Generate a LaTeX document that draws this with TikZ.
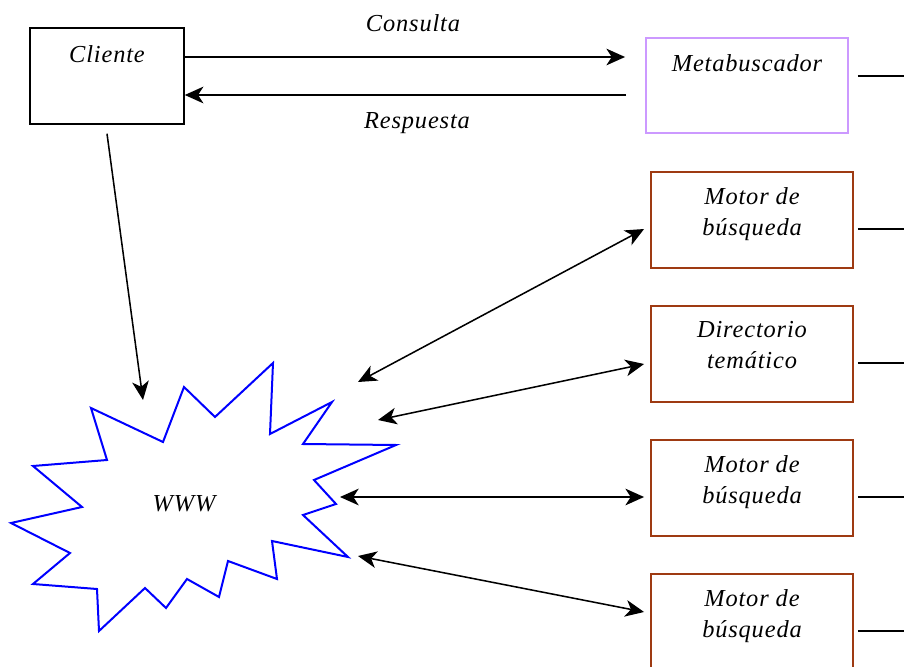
\documentclass[tikz,border=0pt]{standalone}
\usepackage{fontspec}
\setmainfont[LetterSpace=3.5]{Liberation Serif}
\usetikzlibrary{arrows.meta,calc}

\definecolor{lila}{RGB}{204,153,255}
\definecolor{teja}{RGB}{158,58,18}

\tikzset{
  every node/.style={font=\fontsize{18.3}{23.3}\selectfont\itshape},
  caja/.style={draw, line width=1.1pt, minimum width=115.5pt, minimum height=72pt, inner sep=0pt},
  cajameta/.style={draw=lila, line width=1.4pt, minimum width=151.5pt, minimum height=71.5pt, inner sep=0pt},
  cajamotor/.style={draw=teja, line width=1.4pt, minimum width=151.5pt, minimum height=72pt, inner sep=0pt},
  texto/.style={inner sep=0pt, align=center},
  flecha/.style={line width=1.15pt, -{Stealth[length=14pt, width=12.5pt, inset=4pt]}},
  dflecha/.style={line width=1.15pt, {Stealth[length=14pt, width=12.5pt, inset=4pt]}-{Stealth[length=14pt, width=12.5pt, inset=4pt]}},
  linea/.style={line width=1.15pt}
}

\begin{document}
\begin{tikzpicture}[x=0.75pt, y=-0.75pt]

\useasboundingbox (0,0) rectangle (904,667);
\clip (0,0) rectangle (904,667);

% cajas
\node [caja] (cli) at (107,76) {};
\node [cajameta] (meta) at (747,85.5) {};
\node [cajamotor] (mot1) at (752,220) {};
\node [cajamotor] (dir) at (752,354) {};
\node [cajamotor] (mot2) at (752,488) {};
\node [cajamotor] (mot3) at (752,622) {};

\node [texto, anchor=base] (tcli) at ($(cli.north)+(0,35)$) {Cliente};
\node [texto, anchor=base] (tmeta) at ($(meta.north)+(0,35)$) {Metabuscador};
\node [texto, anchor=north] (tmot1) at ($(mot1.north)+(0,15.8)$) {Motor de\\búsqueda};
\node [texto, anchor=north] (tdir) at ($(dir.north)+(0,15.8)$) {Directorio\\temático};
\node [texto, anchor=north] (tmot2) at ($(mot2.north)+(0,15.8)$) {Motor de\\búsqueda};
\node [texto, anchor=north] (tmot3) at ($(mot3.north)+(0,15.8)$) {Motor de\\búsqueda};

% la red
\draw [blue, line width=1.5pt, line join=miter] (91,408) -- (163,442) -- (184,387) -- (215,417) -- (273,363)
  -- (270,434) -- (332,402) -- (303,444) -- (396,445) -- (314,480) -- (336,504)
  -- (303,515) -- (348,557) -- (272,541) -- (277,579) -- (228,561) -- (219,597)
  -- (187,579) -- (166,608) -- (145,588) -- (99,631) -- (97,589) -- (33,584)
  -- (70,553) -- (11,523) -- (82,507) -- (33,466) -- (107,460) -- cycle;
\node [texto] (www) at (184,504) {WWW};

% consulta y respuesta
\draw [flecha] ($(cli.east)+(0,-19)$) -- ($(meta.west)+(-20,-28.5)$);
\draw [flecha] ($(meta.west)+(-19,9.5)$) -- ($(cli.east)+(0,19)$);
\node [texto, anchor=base] (lcons) at (413,32) {Consulta};
\node [texto, anchor=base] (lresp) at (417,128) {Respuesta};

\draw [flecha] ($(cli.south)+(0,9)$) -- ($(www)+(-41,-104)$);

\draw [dflecha] ($(www)+(174,-122)$) -- ($(mot1.west)+(-6,9)$);
\draw [dflecha] ($(www)+(194,-84)$) -- ($(dir.west)+(-6,10)$);
\draw [dflecha] ($(www)+(156,-7)$) -- ($(mot2.west)+(-6,9)$);
\draw [dflecha] ($(www)+(174,52)$) -- ($(mot3.west)+(-6,-10)$);

% salidas a la derecha
\draw [linea] ($(meta.east)+(9,-9.5)$) -- ++(60,0);
\draw [linea] ($(mot1.east)+(4,9)$) -- ++(60,0);
\draw [linea] ($(dir.east)+(4,9)$) -- ++(60,0);
\draw [linea] ($(mot2.east)+(4,9)$) -- ++(60,0);
\draw [linea] ($(mot3.east)+(4,9)$) -- ++(60,0);

\end{tikzpicture}
\end{document}
